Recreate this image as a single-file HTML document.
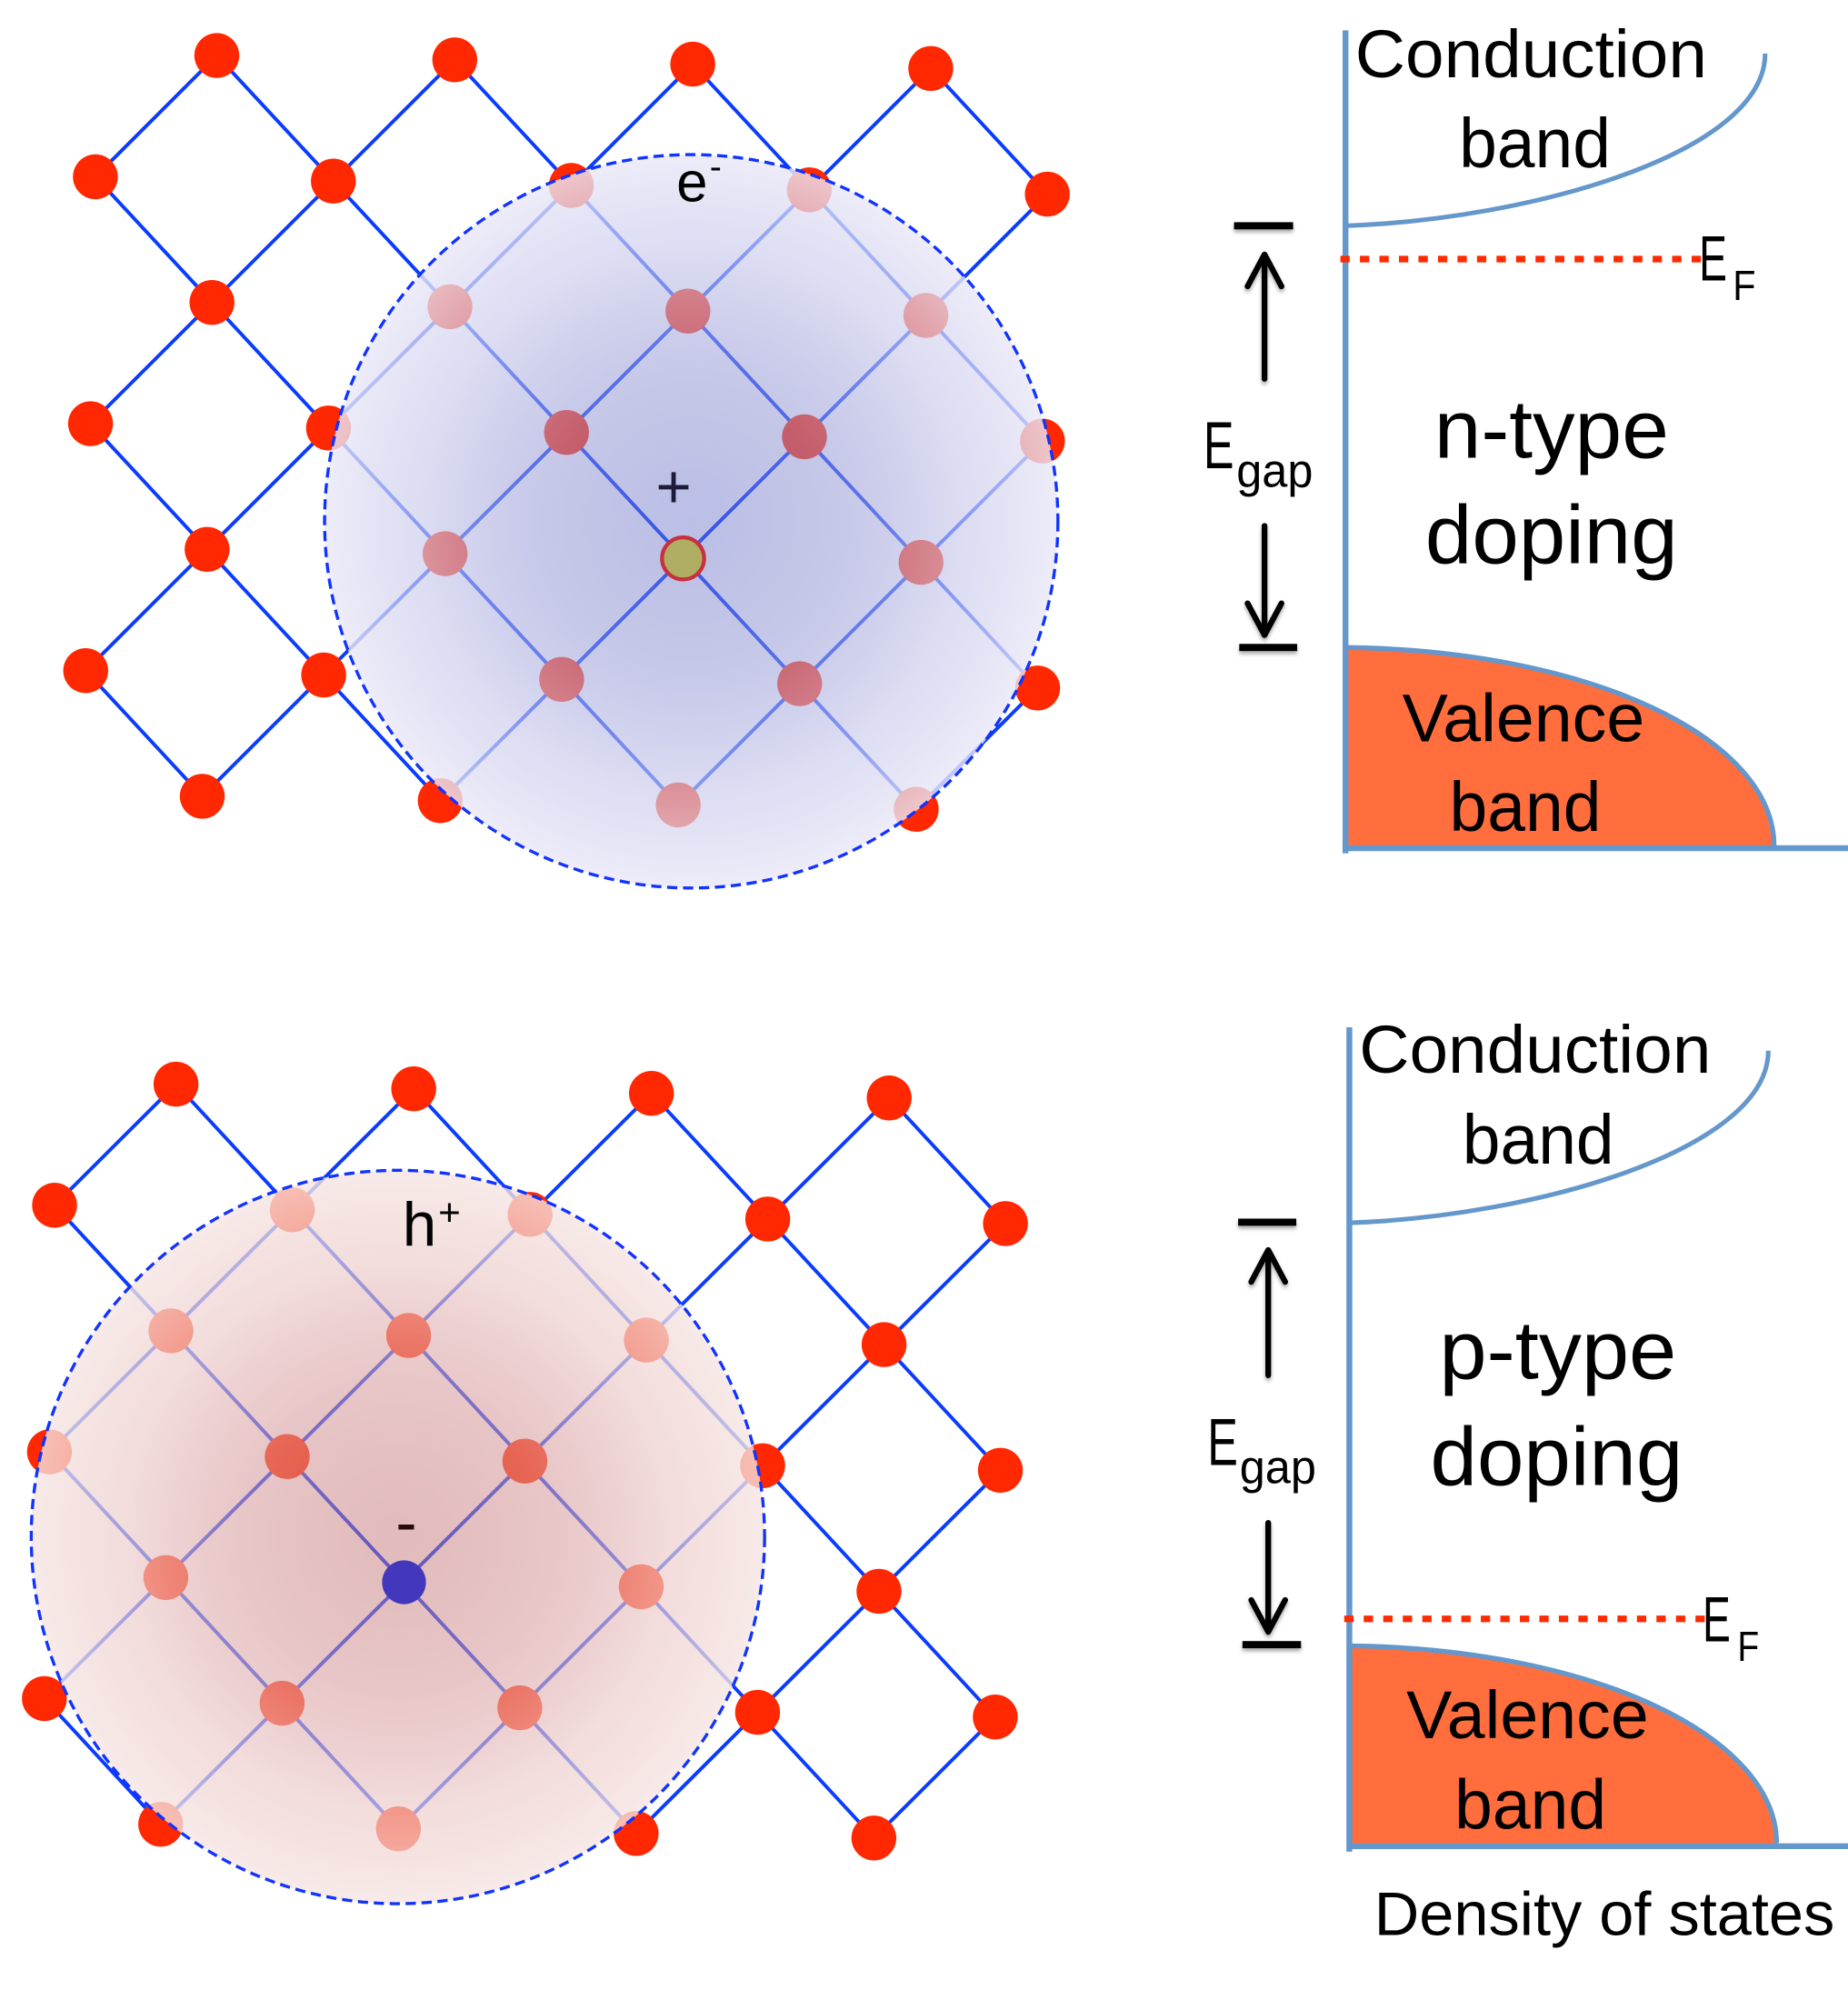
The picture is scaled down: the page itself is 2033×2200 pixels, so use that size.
<!DOCTYPE html>
<html>
<head>
<meta charset="utf-8">
<style>
html,body{margin:0;padding:0;background:#ffffff;}
svg{display:block;}
</style>
</head>
<body>
<svg xmlns="http://www.w3.org/2000/svg" width="2033" height="2200" viewBox="0 0 1449 1568" preserveAspectRatio="none" font-family="'Liberation Sans', Arial, sans-serif">
<defs>
  <radialGradient id="gTop" cx="0.5" cy="0.5" r="0.5">
    <stop offset="0" stop-color="rgb(104,112,198)" stop-opacity="0.45"/>
    <stop offset="0.4" stop-color="rgb(146,149,211)" stop-opacity="0.52"/>
    <stop offset="0.75" stop-color="rgb(204,205,237)" stop-opacity="0.66"/>
    <stop offset="1" stop-color="rgb(234,232,247)" stop-opacity="0.82"/>
  </radialGradient>
  <radialGradient id="gBot" cx="0.5" cy="0.5" r="0.5">
    <stop offset="0" stop-color="rgb(194,114,116)" stop-opacity="0.48"/>
    <stop offset="0.4" stop-color="rgb(213,151,153)" stop-opacity="0.56"/>
    <stop offset="0.75" stop-color="rgb(237,205,205)" stop-opacity="0.68"/>
    <stop offset="1" stop-color="rgb(245,229,226)" stop-opacity="0.8"/>
  </radialGradient>
  <filter id="sh" x="-50%" y="-50%" width="200%" height="200%">
    <feDropShadow dx="0" dy="2.2" stdDeviation="1.6" flood-color="#000" flood-opacity="0.35"/>
  </filter>
</defs>

<!-- ================= TOP LATTICE ================= -->
<g stroke="#0a3cff" stroke-width="2.8" stroke-linecap="round">
  <line x1="67.2" y1="525.8" x2="158.6" y2="624.3"/>
  <line x1="71.0" y1="332.2" x2="345.2" y2="627.7"/>
  <line x1="74.8" y1="138.6" x2="531.8" y2="631.1"/>
  <line x1="170" y1="43.5" x2="718.4" y2="634.5"/>
  <line x1="356.6" y1="46.9" x2="813.6" y2="539.4"/>
  <line x1="543.2" y1="50.3" x2="817.4" y2="345.8"/>
  <line x1="729.8" y1="53.7" x2="821.2" y2="152.2"/>
  <line x1="170" y1="43.5" x2="74.8" y2="138.6"/>
  <line x1="356.6" y1="46.9" x2="71.0" y2="332.2"/>
  <line x1="543.2" y1="50.3" x2="67.2" y2="525.8"/>
  <line x1="729.8" y1="53.7" x2="158.6" y2="624.3"/>
  <line x1="821.2" y1="152.2" x2="345.2" y2="627.7"/>
  <line x1="817.4" y1="345.8" x2="531.8" y2="631.1"/>
  <line x1="813.6" y1="539.4" x2="718.4" y2="634.5"/>
</g>
<g fill="#ff2800">
  <circle cx="170" cy="43.5" r="17.6"/><circle cx="356.6" cy="46.9" r="17.6"/><circle cx="543.2" cy="50.3" r="17.6"/><circle cx="729.8" cy="53.7" r="17.6"/>
  <circle cx="74.8" cy="138.6" r="17.6"/><circle cx="261.4" cy="142.0" r="17.6"/><circle cx="448.0" cy="145.4" r="17.6"/><circle cx="634.6" cy="148.8" r="17.6"/><circle cx="821.2" cy="152.2" r="17.6"/>
  <circle cx="166.2" cy="237.1" r="17.6"/><circle cx="352.8" cy="240.5" r="17.6"/><circle cx="539.4" cy="243.9" r="17.6"/><circle cx="726.0" cy="247.3" r="17.6"/>
  <circle cx="71.0" cy="332.2" r="17.6"/><circle cx="257.6" cy="335.6" r="17.6"/><circle cx="444.2" cy="339.0" r="17.6"/><circle cx="630.8" cy="342.4" r="17.6"/><circle cx="817.4" cy="345.8" r="17.6"/>
  <circle cx="162.4" cy="430.7" r="17.6"/><circle cx="349.0" cy="434.1" r="17.6"/><circle cx="722.2" cy="440.9" r="17.6"/>
  <circle cx="67.2" cy="525.8" r="17.6"/><circle cx="253.8" cy="529.2" r="17.6"/><circle cx="440.4" cy="532.6" r="17.6"/><circle cx="627.0" cy="536.0" r="17.6"/><circle cx="813.6" cy="539.4" r="17.6"/>
  <circle cx="158.6" cy="624.3" r="17.6"/><circle cx="345.2" cy="627.7" r="17.6"/><circle cx="531.8" cy="631.1" r="17.6"/><circle cx="718.4" cy="634.5" r="17.6"/>
</g>
<circle cx="542" cy="408.7" r="287.5" fill="url(#gTop)"/>
<circle cx="542" cy="408.7" r="287.5" fill="none" stroke="#1133ff" stroke-width="2.4" stroke-dasharray="8 4.5"/>
<circle cx="535.6" cy="437.8" r="16.5" fill="#b0ae62" stroke="#c8303e" stroke-width="3"/>
<text x="514.2" y="398" font-size="48" fill="#1c1c3a">+</text>
<text x="530.4" y="157.9" font-size="44" fill="#000">e</text>
<text x="556.5" y="140" font-size="28" fill="#000">-</text>

<!-- ================= BOTTOM LATTICE ================= -->
<g stroke="#0a3cff" stroke-width="2.8" stroke-linecap="round">
  <line x1="34.8" y1="1331.7" x2="126" y2="1430.2"/>
  <line x1="38.8" y1="1138.3" x2="312.4" y2="1433.8"/>
  <line x1="42.8" y1="944.9" x2="498.8" y2="1437.4"/>
  <line x1="138" y1="850" x2="685.2" y2="1441"/>
  <line x1="324.4" y1="853.6" x2="780.4" y2="1346.1"/>
  <line x1="510.8" y1="857.2" x2="784.4" y2="1152.7"/>
  <line x1="697.2" y1="860.8" x2="788.4" y2="959.3"/>
  <line x1="138" y1="850" x2="42.8" y2="944.9"/>
  <line x1="324.4" y1="853.6" x2="38.8" y2="1138.3"/>
  <line x1="510.8" y1="857.2" x2="34.8" y2="1331.7"/>
  <line x1="697.2" y1="860.8" x2="126" y2="1430.2"/>
  <line x1="788.4" y1="959.3" x2="312.4" y2="1433.8"/>
  <line x1="784.4" y1="1152.7" x2="498.8" y2="1437.4"/>
  <line x1="780.4" y1="1346.1" x2="685.2" y2="1441"/>
</g>
<g fill="#ff2800">
  <circle cx="138" cy="850" r="17.6"/><circle cx="324.4" cy="853.6" r="17.6"/><circle cx="510.8" cy="857.2" r="17.6"/><circle cx="697.2" cy="860.8" r="17.6"/>
  <circle cx="42.8" cy="944.9" r="17.6"/><circle cx="229.2" cy="948.5" r="17.6"/><circle cx="415.6" cy="952.1" r="17.6"/><circle cx="602" cy="955.7" r="17.6"/><circle cx="788.4" cy="959.3" r="17.6"/>
  <circle cx="134" cy="1043.4" r="17.6"/><circle cx="320.4" cy="1047" r="17.6"/><circle cx="506.8" cy="1050.6" r="17.6"/><circle cx="693.2" cy="1054.2" r="17.6"/>
  <circle cx="38.8" cy="1138.3" r="17.6"/><circle cx="225.2" cy="1141.9" r="17.6"/><circle cx="411.6" cy="1145.5" r="17.6"/><circle cx="598" cy="1149.1" r="17.6"/><circle cx="784.4" cy="1152.7" r="17.6"/>
  <circle cx="130" cy="1236.8" r="17.6"/><circle cx="502.8" cy="1244" r="17.6"/><circle cx="689.2" cy="1247.6" r="17.6"/>
  <circle cx="34.8" cy="1331.7" r="17.6"/><circle cx="221.2" cy="1335.3" r="17.6"/><circle cx="407.6" cy="1338.9" r="17.6"/><circle cx="594" cy="1342.5" r="17.6"/><circle cx="780.4" cy="1346.1" r="17.6"/>
  <circle cx="126" cy="1430.2" r="17.6"/><circle cx="312.4" cy="1433.8" r="17.6"/><circle cx="498.8" cy="1437.4" r="17.6"/><circle cx="685.2" cy="1441" r="17.6"/>
</g>
<circle cx="312" cy="1205" r="287.5" fill="url(#gBot)"/>
<circle cx="312" cy="1205" r="287.5" fill="none" stroke="#1133ff" stroke-width="2.4" stroke-dasharray="8 4.5"/>
<circle cx="316.8" cy="1240.5" r="17.2" fill="#4338bb"/>
<text x="310.2" y="1210.5" font-size="50" fill="#2a0a0a">-</text>
<text x="315.6" y="976.5" font-size="48" fill="#000">h</text>
<text x="343.6" y="960.5" font-size="30" fill="#000">+</text>

<!-- ================= TOP BAND DIAGRAM ================= -->
<path d="M1055,507.6 C1250,510 1391,580 1391,663 L1391,665 L1055,665 Z" fill="#ff6e3c"/>
<g fill="none" stroke="#6497cb" stroke-linecap="butt">
  <path d="M1055,507.6 C1250,510 1391,580 1391,663" stroke-width="3.8"/>
  <path d="M1055,177 C1200,172 1384,120 1384,42" stroke-width="3.6"/>
  <line x1="1055" y1="23.8" x2="1055" y2="669" stroke-width="4.6"/>
  <line x1="1053" y1="665" x2="1449" y2="665" stroke-width="4.6"/>
</g>
<line x1="1051" y1="203.1" x2="1340" y2="203.1" stroke="#ff2a00" stroke-width="5.2" stroke-dasharray="7.3 8"/>
<g filter="url(#sh)">
  <rect x="967.6" y="174.2" width="46.3" height="5.6" fill="#000"/>
  <rect x="971.7" y="504.8" width="45.4" height="5.6" fill="#000"/>
  <g stroke="#000" stroke-width="4.5" fill="none" stroke-linecap="round" stroke-linejoin="round">
    <line x1="991.5" y1="297" x2="991.5" y2="202"/>
    <polyline points="978.2,224.5 991.5,199.5 1004.8,224.5"/>
    <line x1="991.5" y1="412.3" x2="991.5" y2="495"/>
    <polyline points="978.2,473 991.5,497.9 1004.8,473"/>
  </g>
</g>
<g fill="#000">
  <text x="1062.5" y="60.6" font-size="53" textLength="276" lengthAdjust="spacingAndGlyphs">Conduction</text>
  <text x="1144" y="131.2" font-size="55" textLength="119" lengthAdjust="spacingAndGlyphs">band</text>
  <text x="1332.2" y="219.8" font-size="50" textLength="22" lengthAdjust="spacingAndGlyphs">E</text>
  <text x="1358.7" y="235.2" font-size="33" textLength="18" lengthAdjust="spacingAndGlyphs">F</text>
  <text x="943.6" y="367" font-size="52" textLength="24" lengthAdjust="spacingAndGlyphs">E</text>
  <text x="969.5" y="381.6" font-size="37" textLength="60" lengthAdjust="spacingAndGlyphs">gap</text>
  <text x="1124.5" y="359" font-size="65" textLength="184" lengthAdjust="spacingAndGlyphs">n-type</text>
  <text x="1117.5" y="441.4" font-size="65" textLength="198" lengthAdjust="spacingAndGlyphs">doping</text>
  <text x="1099.5" y="581.3" font-size="53" textLength="190" lengthAdjust="spacingAndGlyphs">Valence</text>
  <text x="1136.5" y="651.3" font-size="55" textLength="119" lengthAdjust="spacingAndGlyphs">band</text>
</g>

<!-- ================= BOTTOM BAND DIAGRAM ================= -->
<path d="M1058,1290.3 C1252,1292.7 1393,1362.5 1393,1445 L1393,1447.4 L1058,1447.4 Z" fill="#ff6e3c"/>
<g fill="none" stroke="#6497cb" stroke-linecap="butt">
  <path d="M1058,1290.3 C1252,1292.7 1393,1362.5 1393,1445" stroke-width="3.8"/>
  <path d="M1058,958.7 C1202.5,953.7 1386.5,901.7 1386.5,823.7" stroke-width="3.6"/>
  <line x1="1058" y1="805.4" x2="1058" y2="1451.7" stroke-width="4.6"/>
  <line x1="1056" y1="1447.4" x2="1449" y2="1447.4" stroke-width="4.6"/>
</g>
<line x1="1054" y1="1269.2" x2="1342" y2="1269.2" stroke="#ff2a00" stroke-width="5.2" stroke-dasharray="7.3 8"/>
<g filter="url(#sh)">
  <rect x="970.8" y="955.4" width="45.6" height="5.6" fill="#000"/>
  <rect x="974.2" y="1286.6" width="45.9" height="5.6" fill="#000"/>
  <g stroke="#000" stroke-width="4.5" fill="none" stroke-linecap="round" stroke-linejoin="round">
    <line x1="994.4" y1="1078.2" x2="994.4" y2="983"/>
    <polyline points="981.1,1005 994.4,980 1007.7,1005"/>
    <line x1="994.4" y1="1193.9" x2="994.4" y2="1276.5"/>
    <polyline points="981.1,1254.4 994.4,1279.4 1007.7,1254.4"/>
  </g>
</g>
<g fill="#000">
  <text x="1065.7" y="841" font-size="53" textLength="276" lengthAdjust="spacingAndGlyphs">Conduction</text>
  <text x="1146.6" y="912.3" font-size="55" textLength="119" lengthAdjust="spacingAndGlyphs">band</text>
  <text x="1128.5" y="1081" font-size="65" textLength="186" lengthAdjust="spacingAndGlyphs">p-type</text>
  <text x="1121.5" y="1164.2" font-size="65" textLength="198" lengthAdjust="spacingAndGlyphs">doping</text>
  <text x="946.7" y="1148.7" font-size="52" textLength="24" lengthAdjust="spacingAndGlyphs">E</text>
  <text x="972" y="1163" font-size="37" textLength="60" lengthAdjust="spacingAndGlyphs">gap</text>
  <text x="1335" y="1287" font-size="50" textLength="22" lengthAdjust="spacingAndGlyphs">E</text>
  <text x="1362.3" y="1302" font-size="33" textLength="17" lengthAdjust="spacingAndGlyphs">F</text>
  <text x="1102.7" y="1362.6" font-size="53" textLength="190" lengthAdjust="spacingAndGlyphs">Valence</text>
  <text x="1140.5" y="1433.8" font-size="55" textLength="119" lengthAdjust="spacingAndGlyphs">band</text>
  <text x="1077.5" y="1517" font-size="48" textLength="361" lengthAdjust="spacingAndGlyphs">Density of states</text>
</g>
</svg>
</body>
</html>
